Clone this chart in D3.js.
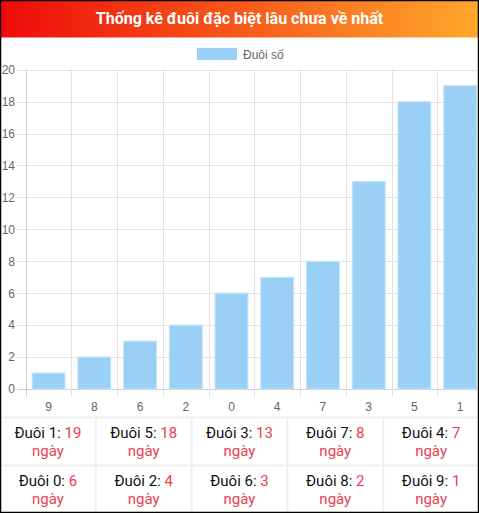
<!DOCTYPE html>
<html><head><meta charset="utf-8">
<script src="https://cdn.jsdelivr.net/npm/d3@7"></script>
<style>
html,body{margin:0;padding:0;background:#fff;}
svg{display:block;}
</style></head>
<body>
<svg id="c" width="479" height="513"></svg>
<script>
const title = "Thống kê đuôi đặc biệt lâu chưa về nhất";
const legendLabel = "Đuôi số";
const digits = ["9","8","6","2","0","4","7","3","5","1"];
const days = [1,2,3,4,6,7,8,13,18,19];
const yTicks = [0,2,4,6,8,10,12,14,16,18,20];
const tableDigits = ["1","5","3","7","4","0","2","6","8","9"];
const tableDays = [19,18,13,8,7,6,4,3,2,1];

const W = 479, H = 513;
const svg = d3.select("#c");
const defs = svg.append("defs");
const grad = defs.append("linearGradient").attr("id","hg").attr("x1","0").attr("x2","1").attr("y1","0").attr("y2","0");
grad.append("stop").attr("offset","0").attr("stop-color","#ef0a0a");
grad.append("stop").attr("offset","1").attr("stop-color","#ffa82b");
defs.append("clipPath").attr("id","clip").append("rect").attr("x",0).attr("y",0).attr("width",W).attr("height",H);

// header
svg.append("rect").attr("x",0).attr("y",0).attr("width",W).attr("height",37.5).attr("fill","url(#hg)");
svg.append("text").attr("x",W/2).attr("y",24).attr("text-anchor","middle")
  .attr("font-family","Roboto, sans-serif").attr("font-weight","bold").attr("font-size",16)
  .attr("fill","#fff").text(title);

// legend
svg.append("rect").attr("x",197).attr("y",48).attr("width",40).attr("height",12)
  .attr("fill","#9ad0f5");
svg.append("text").attr("x",243).attr("y",58.5).attr("font-family","'Liberation Sans', Arial, sans-serif")
  .attr("font-size",12).attr("fill","#666").text(legendLabel);

const x = d3.scaleBand().domain(digits).range([25.7, 483]).paddingInner(0).paddingOuter(0);
const y = d3.scaleLinear().domain([0,20]).range([389, 69.7]);

const g = svg.append("g").attr("clip-path","url(#clip)");
const gridColor = "#e2e2e2";
// horizontal grid + y ticks
g.selectAll("line.hg").data(yTicks).join("line")
  .attr("x1",17).attr("x2",W).attr("y1",d=>Math.round(y(d))+0.5).attr("y2",d=>Math.round(y(d))+0.5)
  .attr("stroke",d=>d===0?"#d0d0d0":gridColor).attr("stroke-width",1);
// vertical grid lines at band edges
const edges = digits.map(d=>x(d)).concat([x(digits[digits.length-1])+x.bandwidth()]);
g.selectAll("line.vg").data(edges).join("line")
  .attr("x1",(d)=>Math.round(d)+0.5).attr("x2",(d)=>Math.round(d)+0.5)
  .attr("y1",69.7).attr("y2",397)
  .attr("stroke",(d,i)=>i===0?"#d0d0d0":gridColor).attr("stroke-width",1);

// bars
const bw = x.bandwidth()*0.72;
g.selectAll("rect.bar").data(digits).join("rect")
  .attr("x",(d)=>x(d)+(x.bandwidth()-bw)/2)
  .attr("y",(d,i)=>y(days[i]))
  .attr("width",bw)
  .attr("height",(d,i)=>y(0)-y(days[i]))
  .attr("fill","#9ad0f5")
  .attr("stroke","#c6e4f9").attr("stroke-width",1);

// y labels
svg.selectAll("text.yl").data(yTicks).join("text")
  .attr("x",15).attr("y",d=>y(d)+4.3).attr("text-anchor","end")
  .attr("font-family","'Liberation Sans', Arial, sans-serif").attr("font-size",12).attr("fill","#666")
  .text(d=>d);
// x labels
svg.selectAll("text.xl").data(digits).join("text")
  .attr("x",d=>x(d)+x.bandwidth()/2).attr("y",411).attr("text-anchor","middle")
  .attr("font-family","'Liberation Sans', Arial, sans-serif").attr("font-size",12).attr("fill","#666")
  .text(d=>d);

// table
const tTop = 418, rowH = 47.5, colW = W/5;
svg.append("line").attr("x1",0).attr("x2",W).attr("y1",tTop-0.5).attr("y2",tTop-0.5).attr("stroke","#efefef").attr("stroke-width",2);
svg.append("line").attr("x1",0).attr("x2",W).attr("y1",tTop+rowH).attr("y2",tTop+rowH).attr("stroke","#efefef").attr("stroke-width",2);
for(let c=1;c<5;c++){
  svg.append("line").attr("x1",c*colW).attr("x2",c*colW).attr("y1",tTop).attr("y2",H)
    .attr("stroke","#efefef").attr("stroke-width",2);
}
const red = "#ef3b4e";
tableDigits.forEach((d,i)=>{
  const r = Math.floor(i/5), c = i%5;
  const cx = c*colW + colW/2;
  const by = r===0 ? 437.5 : 485.5;
  const t = svg.append("text").attr("x",cx).attr("y",by).attr("text-anchor","middle")
    .attr("font-family","Roboto, sans-serif").attr("font-size",15).attr("fill","#111");
  t.append("tspan").text("Đuôi "+d+": ");
  t.append("tspan").attr("fill",red).text(tableDays[i]);
  svg.append("text").attr("x",cx).attr("y",by+18).attr("text-anchor","middle")
    .attr("font-family","Roboto, sans-serif").attr("font-size",15).attr("fill",red).text("ngày");
});

// outer border
svg.append("rect").attr("x",0.5).attr("y",0.5).attr("width",W-1).attr("height",H-1)
  .attr("fill","none").attr("stroke","#000").attr("stroke-width",1.5);
</script>
</body></html>
